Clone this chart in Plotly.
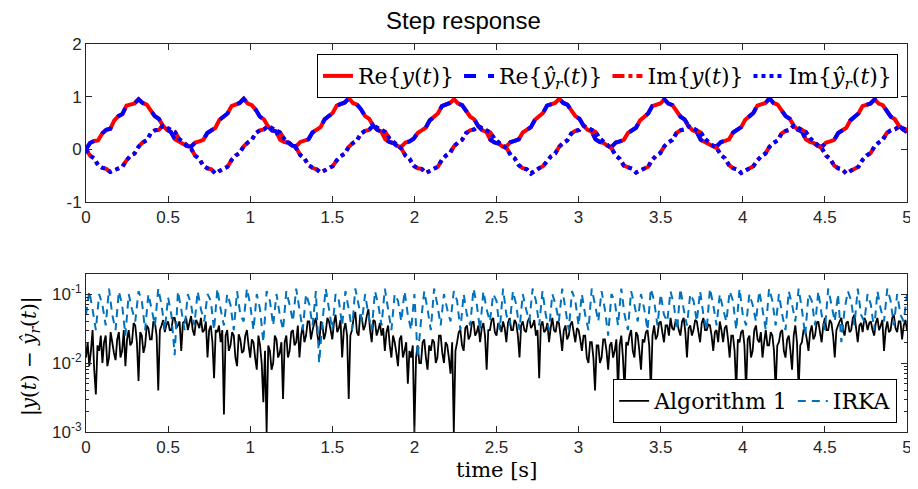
import numpy as np
import plotly.graph_objects as go
from plotly.subplots import make_subplots

# ---- step response (one row per oscillation) ----
t_top = np.linspace(0, 5, 204)

re_y = [
    0.00, 0.12, 0.16, 0.17, 0.30, 0.37, 0.39, 0.55, 0.63, 0.67, 0.83, 0.86, 0.87, 0.95, 0.88, 0.85, 0.74, 0.63, 0.58, 0.45, 0.37, 0.33, 0.19, 0.15, 0.12, 0.06,
    0.05, 0.13, 0.15, 0.18, 0.31, 0.37, 0.41, 0.56, 0.62, 0.68, 0.82, 0.85, 0.88, 0.96, 0.87, 0.84, 0.75, 0.62, 0.57, 0.44, 0.36, 0.34, 0.18, 0.14, 0.13, 0.07,
    0.06, 0.14, 0.16, 0.19, 0.32, 0.38, 0.42, 0.57, 0.63, 0.69, 0.83, 0.86, 0.89, 0.97, 0.88, 0.85, 0.76, 0.63, 0.58, 0.45, 0.37, 0.34, 0.19, 0.14, 0.12, 0.06,
    0.05, 0.13, 0.15, 0.20, 0.31, 0.36, 0.41, 0.55, 0.62, 0.68, 0.82, 0.85, 0.88, 0.95, 0.87, 0.84, 0.74, 0.62, 0.57, 0.44, 0.36, 0.33, 0.18, 0.13, 0.11, 0.05,
    0.06, 0.14, 0.16, 0.19, 0.32, 0.37, 0.42, 0.56, 0.63, 0.69, 0.83, 0.86, 0.88, 0.96, 0.88, 0.85, 0.75, 0.63, 0.58, 0.45, 0.37, 0.34, 0.19, 0.14, 0.12, 0.06,
    0.05, 0.13, 0.15, 0.18, 0.31, 0.37, 0.41, 0.55, 0.62, 0.68, 0.82, 0.85, 0.87, 0.95, 0.87, 0.84, 0.74, 0.62, 0.57, 0.44, 0.36, 0.33, 0.18, 0.14, 0.12, 0.06,
    0.06, 0.14, 0.16, 0.19, 0.32, 0.38, 0.42, 0.56, 0.63, 0.69, 0.83, 0.86, 0.88, 0.97, 0.88, 0.85, 0.75, 0.63, 0.58, 0.45, 0.37, 0.34, 0.19, 0.14, 0.12, 0.06,
    0.05, 0.13, 0.15, 0.18, 0.31, 0.37, 0.41, 0.55, 0.62, 0.68, 0.82, 0.85, 0.87, 0.95, 0.87, 0.84, 0.74, 0.62, 0.57, 0.45, 0.38, 0.33,
]

im_y = [
    0.00, -0.12, -0.17, -0.30, -0.35, -0.37, -0.43, -0.40, -0.36, -0.33, -0.21, -0.12, -0.08, 0.05, 0.13, 0.17, 0.30, 0.36, 0.37, 0.45, 0.41, 0.37, 0.33, 0.20, 0.14, 0.08,
    0.01, -0.12, -0.18, -0.31, -0.36, -0.38, -0.46, -0.41, -0.37, -0.33, -0.20, -0.12, -0.07, 0.06, 0.13, 0.18, 0.31, 0.36, 0.38, 0.44, 0.40, 0.36, 0.32, 0.20, 0.13, 0.07,
    0.02, -0.11, -0.17, -0.30, -0.35, -0.38, -0.44, -0.40, -0.36, -0.32, -0.21, -0.13, -0.08, 0.05, 0.12, 0.17, 0.30, 0.35, 0.37, 0.45, 0.41, 0.37, 0.33, 0.21, 0.14, 0.08,
    0.01, -0.12, -0.18, -0.31, -0.36, -0.37, -0.45, -0.41, -0.37, -0.33, -0.20, -0.12, -0.07, 0.06, 0.13, 0.18, 0.31, 0.36, 0.38, 0.44, 0.40, 0.36, 0.32, 0.20, 0.13, 0.07,
    0.02, -0.11, -0.17, -0.30, -0.36, -0.38, -0.46, -0.40, -0.36, -0.32, -0.21, -0.13, -0.08, 0.05, 0.12, 0.17, 0.30, 0.35, 0.37, 0.45, 0.41, 0.37, 0.33, 0.21, 0.14, 0.08,
    0.01, -0.12, -0.18, -0.31, -0.35, -0.37, -0.44, -0.41, -0.37, -0.33, -0.20, -0.12, -0.07, 0.06, 0.13, 0.18, 0.31, 0.36, 0.38, 0.44, 0.40, 0.36, 0.32, 0.20, 0.13, 0.07,
    0.02, -0.11, -0.17, -0.30, -0.36, -0.38, -0.45, -0.40, -0.36, -0.32, -0.21, -0.13, -0.08, 0.05, 0.12, 0.17, 0.30, 0.35, 0.37, 0.45, 0.41, 0.37, 0.33, 0.21, 0.14, 0.08,
    0.01, -0.12, -0.18, -0.31, -0.36, -0.38, -0.46, -0.41, -0.37, -0.33, -0.20, -0.12, -0.07, 0.06, 0.13, 0.18, 0.31, 0.36, 0.38, 0.43, 0.40, 0.37,
]

# reduced model lies on top of the full one
re_yr = list(re_y)
im_yr = list(im_y)

# ---- error plot ----
t_alg1 = np.linspace(0, 5, 501)
t_irka = np.linspace(0, 5, 251)

# one row per 0.2 s
err_alg1 = [
    0.012, 0.02, 0.009, 0.015, 0.03, 0.008, 0.0035, 0.018, 0.015, 0.025, 0.01, 0.02, 0.025, 0.009, 0.012, 0.028, 0.02, 0.014, 0.011, 0.022,
    0.028, 0.012, 0.015, 0.03, 0.009, 0.022, 0.03, 0.018, 0.02, 0.038, 0.035, 0.02, 0.0055, 0.028, 0.025, 0.014, 0.018, 0.035, 0.032, 0.022,
    0.022, 0.04, 0.038, 0.025, 0.004, 0.03, 0.035, 0.042, 0.028, 0.036, 0.04, 0.03, 0.03, 0.045, 0.045, 0.032, 0.035, 0.04, 0.015, 0.038,
    0.04, 0.045, 0.03, 0.038, 0.048, 0.03, 0.025, 0.042, 0.038, 0.032, 0.045, 0.028, 0.03, 0.04, 0.012, 0.03, 0.035, 0.02, 0.006, 0.03,
    0.028, 0.035, 0.02, 0.03, 0.0018, 0.025, 0.03, 0.015, 0.018, 0.028, 0.025, 0.012, 0.009, 0.026, 0.022, 0.014, 0.015, 0.025, 0.03, 0.018,
    0.012, 0.022, 0.02, 0.012, 0.008, 0.025, 0.018, 0.01, 0.0027, 0.015, 0.001, 0.018, 0.015, 0.008, 0.01, 0.025, 0.022, 0.012, 0.014, 0.02,
    0.003, 0.02, 0.025, 0.012, 0.015, 0.028, 0.03, 0.018, 0.02, 0.035, 0.012, 0.025, 0.035, 0.02, 0.025, 0.04, 0.04, 0.022, 0.03, 0.038,
    0.045, 0.025, 0.018, 0.04, 0.035, 0.022, 0.028, 0.045, 0.04, 0.03, 0.022, 0.038, 0.05, 0.028, 0.032, 0.042, 0.012, 0.03, 0.038, 0.025,
    0.003, 0.025, 0.03, 0.045, 0.055, 0.028, 0.025, 0.05, 0.045, 0.03, 0.035, 0.048, 0.06, 0.03, 0.02, 0.042, 0.04, 0.025, 0.03, 0.038,
    0.025, 0.032, 0.015, 0.028, 0.035, 0.018, 0.012, 0.025, 0.02, 0.014, 0.009, 0.022, 0.025, 0.012, 0.015, 0.02, 0.005, 0.015, 0.012, 0.018,
    0.001, 0.012, 0.018, 0.01, 0.01, 0.02, 0.022, 0.012, 0.008, 0.018, 0.015, 0.022, 0.02, 0.01, 0.012, 0.025, 0.025, 0.014, 0.01, 0.02,
    0.018, 0.012, 0.007, 0.02, 0.001, 0.015, 0.02, 0.028, 0.03, 0.018, 0.015, 0.032, 0.035, 0.022, 0.025, 0.038, 0.04, 0.025, 0.028, 0.035,
    0.02, 0.032, 0.038, 0.025, 0.008, 0.03, 0.03, 0.042, 0.045, 0.028, 0.025, 0.038, 0.035, 0.028, 0.04, 0.032, 0.02, 0.038, 0.045, 0.03,
    0.03, 0.042, 0.038, 0.025, 0.012, 0.035, 0.04, 0.03, 0.028, 0.04, 0.045, 0.032, 0.035, 0.042, 0.025, 0.03, 0.006, 0.035, 0.04, 0.028,
    0.03, 0.038, 0.02, 0.032, 0.045, 0.03, 0.028, 0.04, 0.038, 0.025, 0.015, 0.03, 0.035, 0.022, 0.025, 0.036, 0.04, 0.028, 0.02, 0.032,
    0.03, 0.022, 0.015, 0.025, 0.025, 0.012, 0.01, 0.02, 0.02, 0.012, 0.004, 0.018, 0.018, 0.01, 0.012, 0.022, 0.022, 0.015, 0.008, 0.018,
    0.02, 0.012, 0.015, 0.022, 0.004, 0.018, 0.025, 0.012, 0.004, 0.02, 0.018, 0.025, 0.03, 0.015, 0.012, 0.028, 0.025, 0.015, 0.008, 0.022,
    0.02, 0.028, 0.03, 0.018, 0.004, 0.025, 0.035, 0.022, 0.025, 0.038, 0.04, 0.028, 0.02, 0.035, 0.035, 0.025, 0.045, 0.032, 0.03, 0.04,
    0.04, 0.03, 0.025, 0.04, 0.045, 0.028, 0.012, 0.032, 0.035, 0.025, 0.03, 0.042, 0.04, 0.028, 0.02, 0.038, 0.045, 0.03, 0.03, 0.036,
    0.035, 0.025, 0.015, 0.028, 0.03, 0.02, 0.04, 0.03, 0.02, 0.032, 0.035, 0.022, 0.012, 0.025, 0.025, 0.015, 0.004, 0.022, 0.02, 0.028,
    0.03, 0.018, 0.004, 0.022, 0.025, 0.012, 0.015, 0.03, 0.035, 0.022, 0.02, 0.028, 0.012, 0.02, 0.03, 0.018, 0.018, 0.028, 0.025, 0.015,
    0.004, 0.018, 0.02, 0.028, 0.03, 0.015, 0.012, 0.022, 0.025, 0.015, 0.008, 0.025, 0.035, 0.02, 0.004, 0.018, 0.02, 0.03, 0.03, 0.022,
    0.015, 0.028, 0.035, 0.022, 0.025, 0.038, 0.04, 0.028, 0.02, 0.035, 0.045, 0.03, 0.03, 0.042, 0.038, 0.025, 0.012, 0.03, 0.035, 0.04,
    0.045, 0.03, 0.025, 0.038, 0.04, 0.028, 0.03, 0.045, 0.05, 0.032, 0.02, 0.035, 0.038, 0.028, 0.045, 0.04, 0.03, 0.038, 0.04, 0.03,
    0.025, 0.038, 0.045, 0.03, 0.035, 0.042, 0.015, 0.03, 0.04, 0.028, 0.03, 0.045, 0.05, 0.032, 0.028, 0.04, 0.04, 0.022, 0.035, 0.042,
    0.03,
]

err_irka = [
    0.05, 0.11, 0.06, 0.03, 0.10, 0.07, 0.035, 0.12, 0.05, 0.03,
    0.11, 0.07, 0.025, 0.10, 0.06, 0.04, 0.11, 0.08, 0.03, 0.10,
    0.06, 0.035, 0.12, 0.07, 0.03, 0.09, 0.05, 0.013, 0.11, 0.06,
    0.03, 0.10, 0.07, 0.035, 0.11, 0.06, 0.04, 0.10, 0.08, 0.03,
    0.12, 0.06, 0.035, 0.10, 0.07, 0.03, 0.11, 0.05, 0.04, 0.12,
    0.07, 0.03, 0.10, 0.06, 0.02, 0.11, 0.08, 0.035, 0.10, 0.05,
    0.03, 0.11, 0.07, 0.04, 0.12, 0.06, 0.03, 0.10, 0.07, 0.035,
    0.11, 0.01, 0.04, 0.12, 0.06, 0.03, 0.10, 0.08, 0.035, 0.11,
    0.06, 0.03, 0.12, 0.07, 0.04, 0.10, 0.05, 0.03, 0.11, 0.07,
    0.035, 0.12, 0.06, 0.03, 0.10, 0.08, 0.04, 0.11, 0.05, 0.03,
    0.10, 0.012, 0.04, 0.11, 0.06, 0.03, 0.12, 0.07, 0.035, 0.10,
    0.06, 0.04, 0.11, 0.08, 0.03, 0.10, 0.05, 0.035, 0.12, 0.07,
    0.03, 0.11, 0.06, 0.04, 0.10, 0.08, 0.03, 0.12, 0.05, 0.035,
    0.11, 0.07, 0.03, 0.10, 0.06, 0.04, 0.12, 0.08, 0.035, 0.11,
    0.05, 0.03, 0.10, 0.07, 0.04, 0.12, 0.06, 0.03, 0.11, 0.08,
    0.035, 0.10, 0.05, 0.03, 0.12, 0.07, 0.04, 0.11, 0.06, 0.025,
    0.10, 0.08, 0.035, 0.12, 0.05, 0.03, 0.11, 0.07, 0.04, 0.10,
    0.06, 0.03, 0.12, 0.08, 0.035, 0.10, 0.05, 0.04, 0.11, 0.07,
    0.03, 0.12, 0.06, 0.035, 0.10, 0.08, 0.04, 0.11, 0.05, 0.03,
    0.12, 0.07, 0.035, 0.10, 0.06, 0.04, 0.11, 0.08, 0.03, 0.12,
    0.05, 0.035, 0.10, 0.07, 0.04, 0.11, 0.06, 0.03, 0.12, 0.08,
    0.035, 0.10, 0.05, 0.03, 0.11, 0.07, 0.04, 0.12, 0.06, 0.025,
    0.10, 0.08, 0.035, 0.11, 0.05, 0.03, 0.12, 0.07, 0.04, 0.10,
    0.02, 0.06, 0.11, 0.08, 0.035, 0.12, 0.05, 0.04, 0.10, 0.07,
    0.03, 0.11, 0.06, 0.04, 0.12, 0.08, 0.035, 0.10, 0.05, 0.04,
    0.10,
]

x_ticks = [0, 0.5, 1, 1.5, 2, 2.5, 3, 3.5, 4, 4.5, 5]
x_ticklabels = ["0", "0.5", "1", "1.5", "2", "2.5", "3", "3.5", "4", "4.5", "5"]

AX = "#262626"
SANS = "Liberation Sans"
SERIF = "DejaVu Serif"

fig = make_subplots(rows=2, cols=1)

fig.add_trace(go.Scatter(x=t_top, y=re_y, mode="lines", name="Re{<i>y</i>(<i>t</i>)}",
                         line=dict(color="#ff0000", width=4), legend="legend"), row=1, col=1)
fig.add_trace(go.Scatter(x=t_top, y=re_yr, mode="lines", name="Re{<i>ŷ<sub>r</sub></i>(<i>t</i>)}",
                         line=dict(color="#0000ff", width=4, dash="dash"), legend="legend"), row=1, col=1)
fig.add_trace(go.Scatter(x=t_top, y=im_y, mode="lines", name="Im{<i>y</i>(<i>t</i>)}",
                         line=dict(color="#ff0000", width=4, dash="dashdot"), legend="legend"), row=1, col=1)
fig.add_trace(go.Scatter(x=t_top, y=im_yr, mode="lines", name="Im{<i>ŷ<sub>r</sub></i>(<i>t</i>)}",
                         line=dict(color="#0000ff", width=4, dash="dot"), legend="legend"), row=1, col=1)

fig.add_trace(go.Scatter(x=t_alg1, y=err_alg1, mode="lines", name="Algorithm 1",
                         line=dict(color="#000000", width=1.8, simplify=False), legend="legend2"), row=2, col=1)
fig.add_trace(go.Scatter(x=t_irka, y=err_irka, mode="lines", name="IRKA",
                         line=dict(color="#0072bd", width=2, dash="8px,6px", simplify=False),
                         legend="legend2"), row=2, col=1)

axis_style = dict(showline=True, linecolor=AX, linewidth=1, mirror="ticks", ticks="inside",
                  ticklen=6, tickcolor=AX, showgrid=False, zeroline=False,
                  tickfont=dict(family=SANS, size=17, color=AX))

fig.update_xaxes(**axis_style, range=[0, 5], tickvals=x_ticks, ticktext=x_ticklabels)
fig.update_layout(
    xaxis=dict(domain=[0, 1], anchor="y"),
    yaxis=dict(domain=[0.5928, 1], range=[-1, 2], tickvals=[-1, 0, 1, 2],
               ticktext=["-1", "0", "1", "2"], **axis_style),
    xaxis2=dict(domain=[0, 1], anchor="y2"),
    yaxis2=dict(domain=[0, 0.4072], type="log", range=[-3, -0.71],
                tickvals=[0.001, 0.01, 0.1],
                ticktext=["10<sup>-3</sup>", "10<sup>-2</sup>", "10<sup>-1</sup>"],
                minor=dict(ticks="inside", ticklen=3, tickcolor=AX, dtick="D1", showgrid=False),
                **axis_style),
    # the page body adds an 8px offset, so the figure is 8px smaller than the window
    width=910, height=481,
    margin=dict(l=78, r=6, t=36, b=57),
    plot_bgcolor="white", paper_bgcolor="white",
    legend=dict(orientation="h", x=0.989, xanchor="right", y=0.974, yanchor="top",
                bgcolor="white", bordercolor="#000000", borderwidth=1,
                font=dict(family=SERIF, size=22, color="#000000")),
    legend2=dict(orientation="h", x=0.988, xanchor="right", y=0.023, yanchor="bottom",
                 bgcolor="white", bordercolor="#000000", borderwidth=1,
                 font=dict(family=SERIF, size=22, color="#000000")),
    annotations=[
        dict(text="Step response", x=0.46, y=1.06, xref="paper", yref="paper",
             xanchor="center", yanchor="middle",
             showarrow=False, font=dict(family=SANS, size=24, color="#000000")),
        dict(text="time [s]", x=0.5, xref="paper", y=-0.098, yref="paper",
             xanchor="center", yanchor="middle",
             showarrow=False, font=dict(family=SERIF, size=21, color="#000000")),
        dict(text="|<i>y</i>(<i>t</i>) − <i>ŷ<sub>r</sub></i>(<i>t</i>)|", textangle=-90,
             x=-0.068, xref="paper", y=0.196, yref="paper",
             xanchor="center", yanchor="middle",
             showarrow=False, font=dict(family=SERIF, size=20, color="#000000")),
    ],
)

fig.write_html("out.html")
